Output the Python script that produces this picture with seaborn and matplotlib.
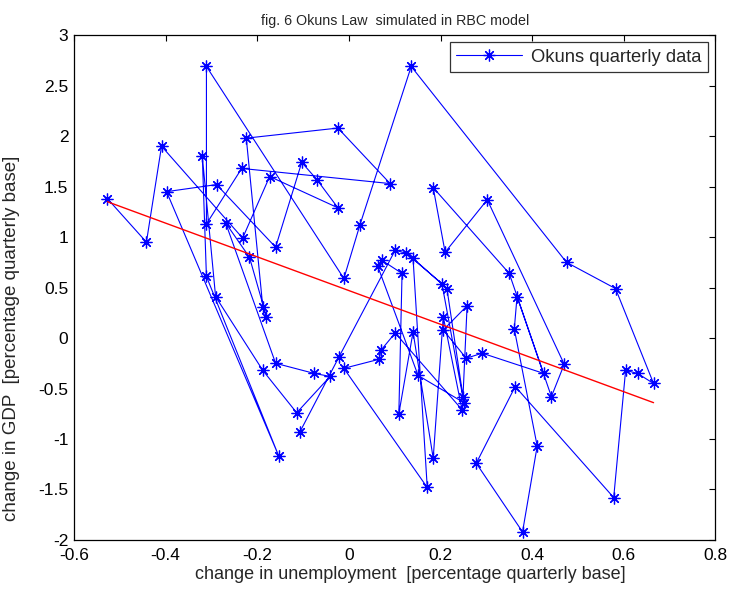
import matplotlib
matplotlib.use("Agg")
import matplotlib.pyplot as plt
import seaborn as sns
import pandas as pd

# change in unemployment (x) and change in GDP (y), in quarterly order
unemp = [-0.527, -0.442, -0.409, -0.232, -0.173, -0.024, -0.070, -0.103, -0.160, -0.289,
         -0.398, -0.153, -0.311, -0.320, -0.291, -0.188, -0.114, -0.041, -0.076, -0.160,
         -0.269, -0.217, -0.180, -0.188, -0.224, -0.024, 0.090, -0.234, -0.311, -0.311,
         -0.011, 0.024, 0.136, 0.475, 0.582, 0.665, 0.630, 0.604, 0.578, 0.363,
         0.278, 0.379, 0.411, 0.361, 0.367, 0.442, 0.470, 0.302, 0.210, 0.184,
         0.350, 0.425, 0.291, 0.256, 0.206, 0.258, 0.249, 0.214, 0.140, 0.171,
         -0.011, 0.066, 0.070, 0.101, 0.247, 0.206, 0.184, 0.140, 0.109, 0.116,
         0.072, 0.063, 0.151, 0.251, 0.203, 0.125, 0.101, -0.022, -0.107]
gdp = [1.38, 0.95, 1.90, 0.99, 1.60, 1.29, 1.57, 1.74, 0.90, 1.52,
       1.45, -1.17, 0.61, 1.80, 0.41, -0.32, -0.74, -0.38, -0.35, -0.25,
       1.14, 0.80, 0.21, 0.31, 1.98, 2.08, 1.53, 1.68, 1.13, 2.69,
       0.59, 1.12, 2.69, 0.75, 0.49, -0.45, -0.35, -0.32, -1.58, -0.48,
       -1.24, -1.92, -1.07, 0.09, 0.41, -0.58, -0.26, 1.37, 0.85, 1.49,
       0.64, -0.35, -0.15, -0.20, 0.08, 0.32, -0.58, 0.49, 0.79, -1.48,
       -0.30, -0.21, -0.12, 0.05, -0.71, 0.21, -1.19, 0.06, -0.75, 0.64,
       0.77, 0.71, -0.37, -0.64, 0.54, 0.84, 0.87, -0.19, -0.93]

# fitted Okun line (end points)
fit_x = [-0.527, 0.665]
fit_y = [1.35, -0.64]

x_ticks = [-0.6, -0.4, -0.2, 0, 0.2, 0.4, 0.6, 0.8]
x_tick_labels = ["-0.6", "-0.4", "-0.2", "0", "0.2", "0.4", "0.6", "0.8"]
y_ticks = [-2, -1.5, -1, -0.5, 0, 0.5, 1, 1.5, 2, 2.5, 3]
y_tick_labels = ["-2", "-1.5", "-1", "-0.5", "0", "0.5", "1", "1.5", "2", "2.5", "3"]

sns.set_style("white")
plt.rcParams['font.family'] = ['Liberation Sans', 'DejaVu Sans']

df = pd.DataFrame({"u": unemp, "g": gdp})
fit = pd.DataFrame({"u": fit_x, "g": fit_y})

fig = plt.figure(figsize=(7.33, 5.96), dpi=100)
ax = fig.add_axes([0.101, 0.094, 0.875, 0.847])

asterisk = (8, 2, 0)
sns.lineplot(data=df, x="u", y="g", sort=False, estimator=None, ax=ax,
             color="#0000FF", linewidth=0.8, marker=asterisk, markersize=8.5,
             markeredgewidth=0.9, markeredgecolor="#0000FF",
             label="Okuns quarterly data")
sns.lineplot(data=fit, x="u", y="g", sort=False, estimator=None, ax=ax,
             color="#FF0000", linewidth=1.0, legend=False)

ax.set_xlim(-0.6, 0.8)
ax.set_ylim(-2, 3)
ax.set_xticks(x_ticks)
ax.set_xticklabels(x_tick_labels)
ax.set_yticks(y_ticks)
ax.set_yticklabels(y_tick_labels)
ax.tick_params(direction="in", length=4, width=0.8, top=True, right=True,
               labelsize=12.5, colors="black")
ax.tick_params(axis="y", pad=4)
ax.tick_params(axis="x", pad=6)
for s in ax.spines.values():
    s.set_color("black")
    s.set_linewidth(0.9)
    s.set_visible(True)

ax.set_xlabel("change in unemployment  [percentage quarterly base]", fontsize=13)
ax.set_ylabel("change in GDP  [percentage quarterly base]", fontsize=13.5)
ax.xaxis.set_label_coords(0.525, -0.052)
ax.yaxis.set_label_coords(-0.085, 0.40)
ax.set_title("fig. 6 Okuns Law  simulated in RBC model", fontsize=10.3, pad=7)

leg = ax.legend(loc="upper right", fontsize=13.2, frameon=True, fancybox=False,
                borderaxespad=0.4, handlelength=3.6, handletextpad=0.5,
                borderpad=0.35)
leg.get_frame().set_edgecolor("black")
leg.get_frame().set_linewidth(0.9)

fig.savefig("out.png", dpi=100)
